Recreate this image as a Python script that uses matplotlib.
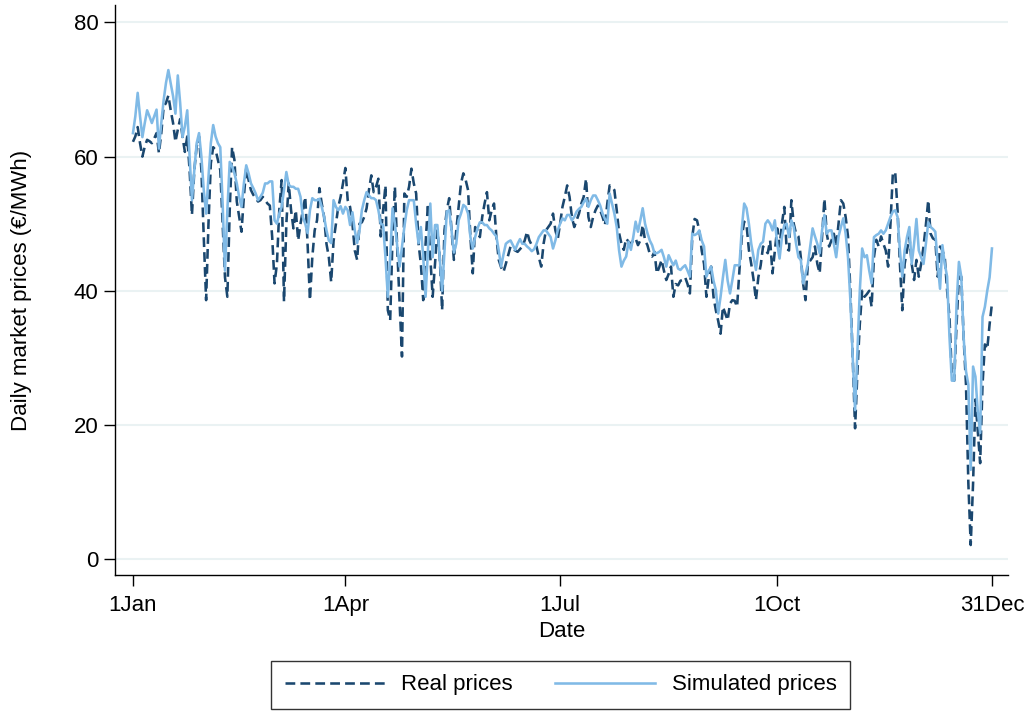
import numpy as np
import pandas as pd
import matplotlib
matplotlib.use("Agg")
import matplotlib.pyplot as plt

plt.rcParams['font.family'] = ['Liberation Sans', 'DejaVu Sans']

# daily prices over the year (EUR/MWh)
dates = pd.date_range("2017-01-01", "2017-12-31", freq="D")

real_prices = [
    62.2, 63, 64.4, 62, 60, 61.5, 62.5, 62.3, 62, 62.7,
    63.5, 60.5, 63.5, 67.4, 68, 69.1, 66.9, 65, 62.2, 64,
    65.6, 63, 60.7, 63, 58, 51.3, 58, 61.5, 63, 58,
    48, 38.6, 50, 59, 61.4, 61, 59.5, 58, 50, 42,
    39.1, 52, 61.4, 59.5, 53.3, 51, 48.8, 54, 58.3, 56.5,
    55, 54.3, 53.8, 53.3, 53.5, 54, 53.5, 53, 52.7, 48,
    41.1, 44, 52, 56.5, 38.4, 50, 56, 52, 49.3, 52,
    47.5, 50, 52, 54, 47, 38.6, 45, 49, 50.5, 55.3,
    53, 51, 47, 45, 41.3, 47.4, 50, 52.5, 54, 56,
    58.3, 53.5, 52.5, 50, 46, 44.6, 50, 50.2, 51, 52.3,
    55, 57.2, 54.7, 55.5, 56.7, 48.1, 52, 55.7, 37.1, 35.6,
    48, 55.5, 46.1, 38, 30.2, 54.5, 54, 55.5, 58.2, 56,
    54.5, 47.1, 44, 38.6, 47, 53, 45, 39.1, 44, 49,
    45, 37.1, 49, 52, 53.8, 49, 44.6, 49, 52.5, 56,
    57.5, 56.5, 55, 48, 42.6, 49.5, 49, 48, 51, 53,
    54.7, 50.5, 52, 53, 48, 44.6, 43.5, 42.8, 44, 45.3,
    46.6, 46.2, 46, 45.8, 46.2, 46.6, 47.5, 48.8, 47.5, 46.8,
    46.7, 46.6, 45, 43.6, 47, 49, 49.5, 50, 51.5, 49,
    47.7, 50, 52.5, 54, 55.7, 54, 51, 49.5, 50.5, 51.5,
    53, 54, 56.7, 51, 49.5, 51, 52, 52.7, 52, 51,
    49.8, 53, 55.7, 55.5, 55, 52, 48.6, 47, 46.1, 47.8,
    47.3, 47, 47.5, 47.8, 46.8, 47.5, 49.8, 47.5, 46.8, 45.5,
    45.1, 45.8, 42.6, 43.5, 44.6, 43, 41.6, 42.5, 43.6, 39.1,
    41, 40.8, 41.5, 41.6, 42, 41, 39.6, 48, 50.7, 50.5,
    49, 46, 44, 39.1, 42, 43.6, 39.1, 37.1, 35.5, 33.6,
    37.6, 36.6, 35.6, 38.1, 38.6, 38.5, 37.6, 43.1, 48, 50.3,
    49.8, 46.1, 44, 41.6, 38.6, 42, 43.8, 46.6, 46, 45.6,
    47.5, 42.6, 46, 49.3, 46.6, 50, 52.5, 46.3, 46, 53.5,
    50, 48.5, 48.1, 45, 41, 38.6, 44, 44.5, 45, 46.6,
    44, 42.6, 48, 53.7, 48.5, 46.6, 47.5, 48.5, 46.6, 50,
    53.5, 53, 51, 48.1, 40, 30, 19.5, 28, 35, 40,
    39.1, 39.5, 40, 37.6, 45, 47.6, 46.6, 48.1, 47, 46,
    43.6, 50, 57.5, 57.7, 52, 44, 37.1, 44, 46, 48.1,
    44, 41.6, 44.6, 42.1, 44, 46.6, 49.8, 53.5, 48.5, 47.8,
    47.6, 42.1, 46.6, 46, 45, 40, 36.1, 27.2, 26.6, 35,
    42.1, 42.1, 33, 26, 11.3, 2.1, 11.3, 23.8, 19, 14.3,
    26, 32, 31.3, 35, 38.1,
]

simulated_prices = [
    63.5, 66, 69.5, 66, 62.9, 65, 66.9, 66, 65, 66,
    67, 61.2, 65, 68.4, 71, 72.9, 70.9, 69, 66.4, 72.1,
    68, 62.9, 64.5, 66.9, 60, 53.5, 58, 62, 63.5, 60,
    55, 51.5, 57, 62, 64.7, 63, 62, 61.4, 53, 43,
    52, 59.2, 58.5, 57.5, 56, 54, 52.5, 56, 58.7, 57.5,
    56, 55.3, 54.5, 53.5, 54, 54.6, 56, 56, 56.3, 56.3,
    50.5, 50, 51.5, 52.5, 55, 57.7, 55.8, 55.5, 55.5, 55.2,
    55.2, 54, 51, 50, 48.6, 52, 53.8, 53.5, 53.5, 53.7,
    52.5, 51, 49, 47.5, 47.1, 53.5, 52.5, 52, 52.6, 51.5,
    52.5, 52, 49.8, 51.7, 49, 47.1, 49, 52, 53.5, 54.7,
    54.2, 53.8, 53.8, 53.5, 52, 50, 49.8, 45, 39.1, 45,
    52.3, 50, 46.6, 43.6, 46.5, 49.5, 52, 53.5, 53.5, 53.5,
    50, 47.1, 49.5, 45, 39.1, 46, 53, 45, 49.8, 49.8,
    45, 40, 46, 51.8, 52, 49, 45.7, 47, 50.5, 51.5,
    52.8, 52.5, 51.5, 48, 46.3, 48, 49.3, 50.2, 50.2, 49.8,
    49.8, 49.3, 49, 48.5, 48.1, 46, 43.6, 45.4, 47, 47.3,
    47.5, 46.8, 46.1, 47, 47.7, 47, 47, 46.6, 46.3, 45.9,
    46.2, 47, 48, 48.5, 49, 49, 48.5, 48, 46.3, 47.5,
    49, 50, 50.8, 50.5, 51.3, 51.3, 50.5, 51, 51.8, 52.2,
    52.5, 53.2, 53.7, 52.5, 53.5, 54.2, 54.2, 53.5, 52.7, 51.5,
    50.7, 50, 54.5, 53, 51.5, 49.5, 46, 43.6, 44.5, 45.1,
    47.3, 46.1, 48, 50.3, 48.8, 50.5, 52.3, 50, 48.6, 47.5,
    46.8, 45.6, 45.6, 45.8, 46.1, 45, 43.6, 45.3, 44.5, 43.8,
    44.5, 43.3, 43.1, 43.5, 43.8, 43, 42.1, 48.5, 48.3, 48.5,
    49, 47.5, 46.6, 42.1, 43, 43.6, 41.5, 40.1, 36.6, 39.1,
    42, 44.6, 41.5, 39.6, 41.6, 43.8, 43.8, 43.8, 49.3, 53,
    52.3, 50, 47, 45, 43.1, 46.1, 47, 47.3, 50, 50.5,
    50, 49, 50.5, 47, 44.8, 48, 49.8, 50, 48, 50.5,
    49.5, 47, 45, 44.6, 41.1, 42.5, 44, 46.6, 49.3, 48.1,
    47, 45.6, 49, 51.3, 48.5, 49, 49, 47, 45, 48.1,
    49.5, 50.8, 48.5, 45, 38.6, 30.1, 22.2, 31, 40, 46.3,
    45, 45.3, 43, 41.1, 48, 48.3, 48.5, 49, 48.5, 49,
    50, 51, 51.8, 52, 51, 46, 42.1, 46, 48, 49.5,
    44, 47, 50.7, 46, 45, 44, 47, 50.2, 49.5, 49.2,
    48.8, 44, 40.3, 46.8, 44, 42.1, 33.1, 26.6, 26.6, 38,
    44.3, 42.1, 33, 28, 26, 13.3, 28.7, 27.2, 22, 18.8,
    36.1, 37.6, 40, 42, 46.3,
]

tick_dates = ["2017-01-01", "2017-04-01", "2017-07-01", "2017-10-01", "2017-12-31"]
tick_labels = ["1Jan", "1Apr", "1Jul", "1Oct", "31Dec"]
y_ticks = [0, 20, 40, 60, 80]

navy = "#1a476f"
light_blue = "#80bae6"
fs = 16

fig = plt.figure(figsize=(10.27, 7.11), dpi=100)
ax = fig.add_axes([0.112, 0.191, 0.8695, 0.802])

for y in y_ticks:
    ax.axhline(y, color="#eaf2f3", lw=1.5, zorder=0)

ax.plot(dates, real_prices, color=navy, lw=1.85, ls=(0, (3.8, 2.0)), label="Real prices")
ax.plot(dates, simulated_prices, color=light_blue, lw=1.85, label="Simulated prices")

start = pd.Timestamp("2017-01-01")
ax.set_xlim(start - pd.Timedelta(days=7.6), start + pd.Timedelta(days=370.8))
ax.set_ylim(-2.4, 82.6)

ax.set_xticks(pd.to_datetime(tick_dates))
ax.set_xticklabels(tick_labels)
ax.set_yticks(y_ticks)
ax.tick_params(axis="both", labelsize=fs, length=8, width=1, color="black")
ax.tick_params(axis="x", pad=6)
ax.tick_params(axis="y", pad=4)

for side in ["top", "right"]:
    ax.spines[side].set_visible(False)
for side in ["left", "bottom"]:
    ax.spines[side].set_linewidth(1)

ax.set_xlabel("Date", fontsize=fs, labelpad=4)
ax.set_ylabel("Daily market prices (€/MWh)", fontsize=fs, labelpad=30)

leg = fig.legend(loc="lower center", bbox_to_anchor=(0.546, 0.0), ncol=2,
                 fontsize=fs, frameon=True, fancybox=False, edgecolor="black",
                 handlelength=4.5, handletextpad=0.75, columnspacing=1.9,
                 borderpad=0.6, borderaxespad=0.1)
leg.get_frame().set_linewidth(1)

fig.savefig("out.png", dpi=100)
